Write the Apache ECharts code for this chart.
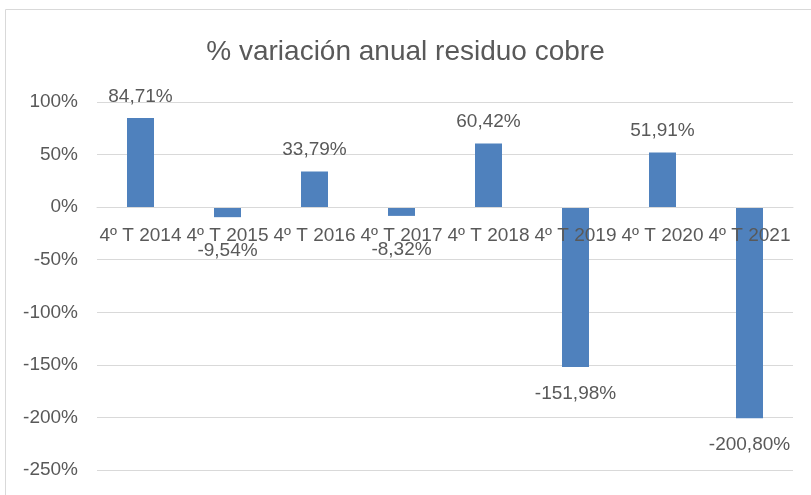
<!DOCTYPE html>
<html lang="es">
<head>
    <meta charset="UTF-8">
    <title>% variación anual residuo cobre</title>
    <style>
        body{
            margin: 0;
            background-color: #ffffff;
        }
    </style>
    <script src="https://cdn.jsdelivr.net/npm/echarts@6/dist/echarts.min.js"></script>
</head>
<body>
<div id="chart" style="width: 811px;height:495px;"></div>
<script type="text/javascript">
    var categories = ['4º T 2014','4º T 2015','4º T 2016','4º T 2017','4º T 2018','4º T 2019','4º T 2020','4º T 2021'];
    var values = [84.71, -9.54, 33.79, -8.32, 60.42, -151.98, 51.91, -200.80];

    var txt = '#595959';
    var font = 'Liberation Sans';

    var barData = [];
    for (var i = 0; i < values.length; i++) {
        var neg = values[i] < 0;
        barData.push({
            value: values[i],
            label: {
                position: neg ? 'bottom' : 'top',
                // small negative bars: label pushed under the category names
                distance: neg ? (values[i] > -20 ? 24 : 17) : 12
            }
        });
    }

    var option = {
        animation: false,
        textStyle: {fontFamily: font},
        title: {
            text: '% variación anual residuo cobre',
            left: 'center',
            top: 33,
            textStyle: {color: txt, fontSize: 28, fontWeight: 'normal', fontFamily: font}
        },
        graphic: [{
            type: 'rect',
            shape: {x: 5.5, y: 9.5, width: 820, height: 500},
            style: {fill: 'none', stroke: '#d9d9d9', lineWidth: 1}
        }],
        grid: {left: 97, right: 18, top: 102, bottom: 25, containLabel: false, outerBoundsMode: 'none'},
        xAxis: {
            type: 'category',
            data: categories,
            offset: -263,
            z: 10,
            axisLine: {onZero: false, lineStyle: {color: '#d9d9d9'}},
            axisTick: {show: false},
            axisLabel: {
                interval: 0,
                hideOverlap: false,
                color: txt,
                fontSize: 19,
                margin: 19,
                fontFamily: font
            }
        },
        yAxis: {
            type: 'value',
            min: -250,
            max: 100,
            interval: 50,
            axisLine: {show: false},
            axisTick: {show: false},
            axisLabel: {
                formatter: '{value}%',
                color: txt,
                fontSize: 19,
                margin: 19,
                fontFamily: font
            },
            splitLine: {lineStyle: {color: '#d9d9d9', width: 1}}
        },
        series: [{
            type: 'bar',
            data: barData,
            barWidth: 27,
            z: 2,
            itemStyle: {color: '#4f81bd'},
            label: {
                show: true,
                color: txt,
                fontSize: 19,
                fontFamily: font,
                formatter: function (p) {
                    return p.value.toFixed(2).replace('.', ',') + '%';
                }
            }
        }]
    };

    var chart = echarts.init(document.getElementById('chart'));
    chart.setOption(option);
</script>
</body>
</html>
